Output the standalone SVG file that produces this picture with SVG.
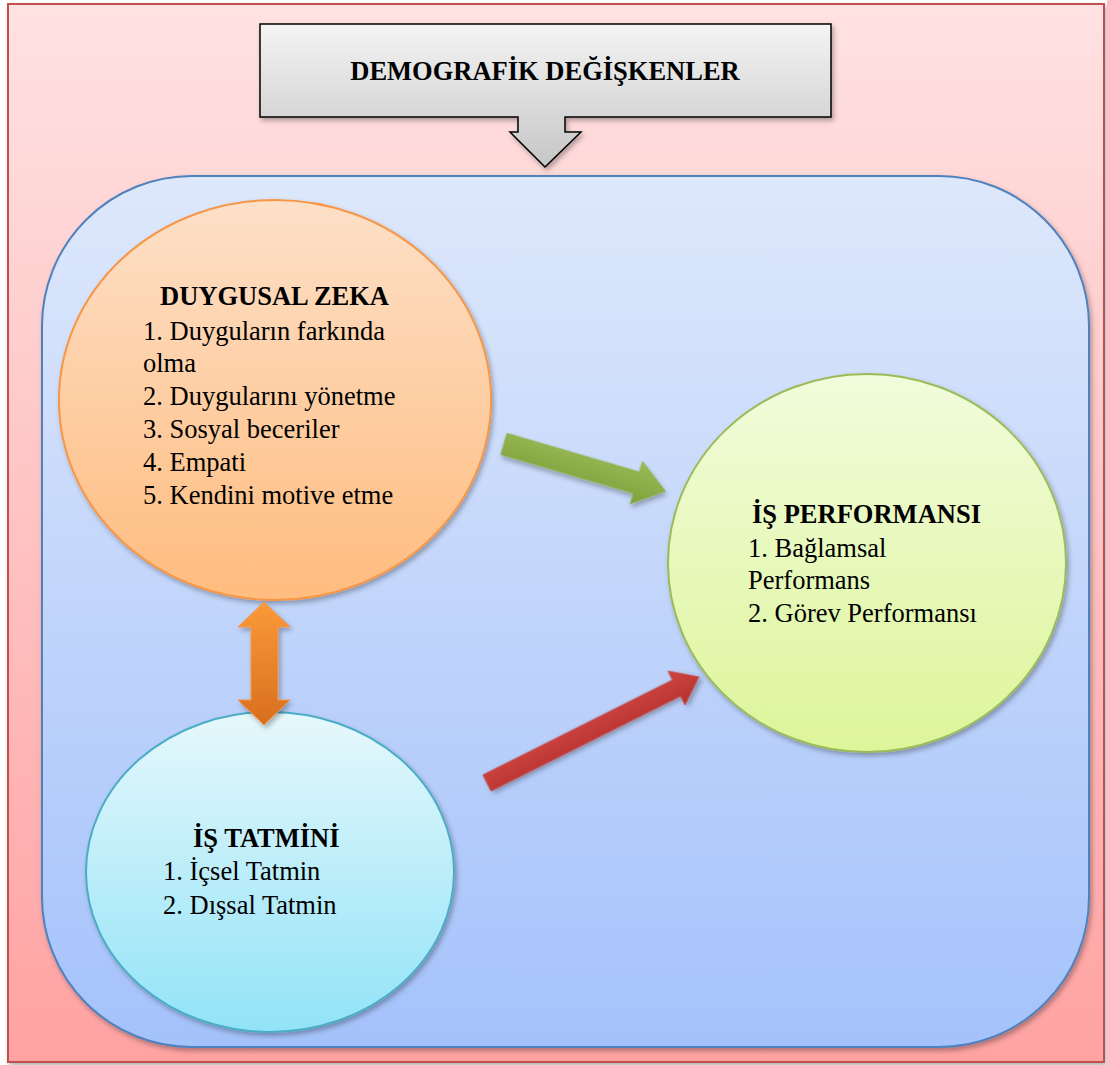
<svg xmlns="http://www.w3.org/2000/svg" width="1107" height="1065" viewBox="0 0 1107 1065">
<defs>
<linearGradient id="gOuter" x1="0" y1="0" x2="0" y2="1"><stop offset="0" stop-color="#FFE2E2"/><stop offset="1" stop-color="#FFA2A2"/></linearGradient>
<linearGradient id="gInner" x1="0" y1="0" x2="0" y2="1"><stop offset="0" stop-color="#DEE8FB"/><stop offset="1" stop-color="#A4C2FB"/></linearGradient>
<linearGradient id="gGray" x1="0" y1="0" x2="0" y2="1"><stop offset="0" stop-color="#F4F4F4"/><stop offset="1" stop-color="#C6C6C6"/></linearGradient>
<linearGradient id="gOrange" x1="0" y1="0" x2="0" y2="1"><stop offset="0" stop-color="#FDE0C8"/><stop offset="1" stop-color="#FFBC7E"/></linearGradient>
<linearGradient id="gGreen" x1="0" y1="0" x2="0" y2="1"><stop offset="0" stop-color="#F1FCDC"/><stop offset="1" stop-color="#DDF59A"/></linearGradient>
<linearGradient id="gCyan" x1="0" y1="0" x2="0" y2="1"><stop offset="0" stop-color="#E6F8FC"/><stop offset="1" stop-color="#92E3F7"/></linearGradient>
<linearGradient id="gArrG" x1="0" y1="0" x2="0" y2="1"><stop offset="0" stop-color="#9BBB59"/><stop offset="1" stop-color="#7FA03A"/></linearGradient>
<linearGradient id="gArrR" x1="0" y1="0" x2="0" y2="1"><stop offset="0" stop-color="#D04440"/><stop offset="1" stop-color="#B53330"/></linearGradient>
<linearGradient id="gArrO" x1="0" y1="0" x2="0" y2="1"><stop offset="0" stop-color="#FA9A3A"/><stop offset="1" stop-color="#D86E1E"/></linearGradient>
<filter id="sh" x="-10%" y="-10%" width="130%" height="130%"><feDropShadow dx="2" dy="3" stdDeviation="2.5" flood-color="#000" flood-opacity="0.3"/></filter>
</defs>
<style>
.b{font-family:"Liberation Serif","Times New Roman",serif;font-weight:bold;font-size:26.5px;fill:#000}
.t{font-family:"Liberation Serif","Times New Roman",serif;font-size:26.5px;fill:#000}
</style>
<rect x="8" y="4" width="1096" height="1058" fill="url(#gOuter)" stroke="#C0504D" stroke-width="2" filter="url(#sh)"/>
<rect x="42" y="176" width="1047" height="871" rx="150" ry="150" fill="url(#gInner)" stroke="#4F81BD" stroke-width="2" filter="url(#sh)"/>
<g id="demografik">
<path d="M260,24 H831 V117 H565 V132 H581 L545,167 L510,132 H518 V117 H260 Z" fill="url(#gGray)" stroke="#000" stroke-width="1.5" filter="url(#sh)"/>
<text class="b" x="545" y="80" text-anchor="middle">DEMOGRAFİK DEĞİŞKENLER</text>
</g>
<g id="duygusal">
<ellipse cx="275" cy="400" rx="216" ry="200" fill="url(#gOrange)" stroke="#F79646" stroke-width="2" filter="url(#sh)"/>
<text class="b" x="160" y="305">DUYGUSAL ZEKA</text>
<text class="t" x="143" y="340">1. Duyguların farkında</text>
<text class="t" x="143" y="372">olma</text>
<text class="t" x="143" y="405">2. Duygularını yönetme</text>
<text class="t" x="143" y="438">3. Sosyal beceriler</text>
<text class="t" x="143" y="471">4. Empati</text>
<text class="t" x="143" y="504">5. Kendini motive etme</text>
</g>
<g id="performans">
<ellipse cx="867" cy="563" rx="199" ry="189" fill="url(#gGreen)" stroke="#9BBB59" stroke-width="2" filter="url(#sh)"/>
<text class="b" x="752" y="523">İŞ PERFORMANSI</text>
<text class="t" x="748" y="557">1. Bağlamsal</text>
<text class="t" x="748" y="589">Performans</text>
<text class="t" x="748" y="622">2. Görev Performansı</text>
</g>
<g id="tatmin">
<ellipse cx="270" cy="872" rx="184" ry="160" fill="url(#gCyan)" stroke="#4BACC6" stroke-width="2" filter="url(#sh)"/>
<text class="b" x="193" y="847">İŞ TATMİNİ</text>
<text class="t" x="163" y="880">1. İçsel Tatmin</text>
<text class="t" x="163" y="914">2. Dışsal Tatmin</text>
</g>
<g id="connectors">
<g transform="translate(504,444) rotate(16.3)">
<path d="M0,-11 H138 V-22 L168,0 L138,22 V11 H0 Z" fill="url(#gArrG)" stroke="#8DB04A" stroke-width="1" filter="url(#sh)"/>
</g>
<g transform="translate(487,783) rotate(-26.6)">
<path d="M0,-9 H212 V-19 L237,0 L212,19 V9 H0 Z" fill="url(#gArrR)" stroke="#C0504D" stroke-width="1" filter="url(#sh)"/>
</g>
<path d="M264,602 L290,627 H278 V700 H290 L264,725 L238,700 H251 V627 H238 Z" fill="url(#gArrO)" stroke="#F79646" stroke-width="1" filter="url(#sh)"/>
</g>
</svg>
